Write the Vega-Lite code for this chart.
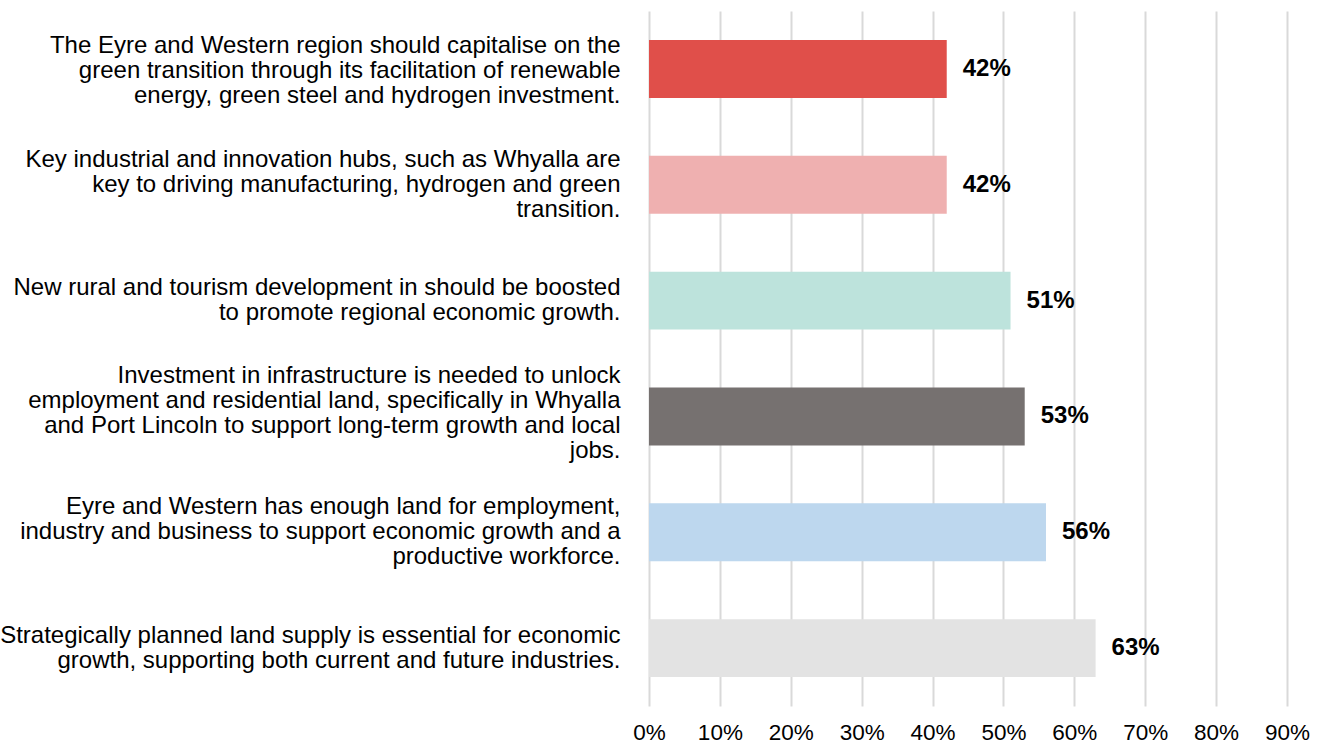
{
  "$schema": "https://vega.github.io/schema/vega-lite/v6.json",
  "autosize": "none",
  "width": 638,
  "height": 695,
  "padding": {"left": 649, "top": 11, "right": 39, "bottom": 38},
  "background": "white",
  "config": {"view": {"stroke": null}, "font": "Liberation Sans"},
  "data": {"values": [
    {"order": 1, "label": "The Eyre and Western region should capitalise on the|green transition through its facilitation of renewable|energy, green steel and hydrogen investment.", "value": 0.42, "color": "#E04F4A"},
    {"order": 2, "label": "Key industrial and innovation hubs, such as Whyalla are|key to driving manufacturing, hydrogen and green|transition.", "value": 0.42, "color": "#EFB0B0"},
    {"order": 3, "label": "New rural and tourism development in should be boosted|to promote regional economic growth.", "value": 0.51, "color": "#BDE3DC"},
    {"order": 4, "label": "Investment in infrastructure is needed to unlock|employment and residential land, specifically in Whyalla|and Port Lincoln to support long-term growth and local|jobs.", "value": 0.53, "color": "#767170"},
    {"order": 5, "label": "Eyre and Western has enough land for employment,|industry and business to support economic growth and a|productive workforce.", "value": 0.56, "color": "#BDD7EE"},
    {"order": 6, "label": "Strategically planned land supply is essential for economic|growth, supporting both current and future industries.", "value": 0.63, "color": "#E3E3E3"}
  ]},
  "encoding": {
    "y": {
      "field": "label", "type": "nominal", "sort": {"field": "order"},
      "scale": {"paddingInner": 0.5, "paddingOuter": 0.25},
      "axis": {
        "title": null, "domain": false, "ticks": false, "grid": false,
        "labelExpr": "split(datum.label, '|')",
        "labelFontSize": 24, "labelLineHeight": 25, "labelColor": "#000000",
        "labelPadding": 29, "labelLimit": 0, "labelAlign": "right", "labelBaseline": "middle",
        "labelOffset": {
          "condition": [
            {"test": "indexof(datum.value, 'The Eyre') == 0", "value": -23},
            {"test": "length(split(datum.value, '|')) == 2", "value": -12.5},
            {"test": "length(split(datum.value, '|')) == 3", "value": -25},
            {"test": "length(split(datum.value, '|')) == 4", "value": -40.5}
          ],
          "value": 0
        }
      }
    },
    "x": {
      "field": "value", "type": "quantitative",
      "scale": {"domain": [0, 0.9], "nice": false},
      "axis": {
        "title": null, "format": ".0%", "values": [0, 0.1, 0.2, 0.3, 0.4, 0.5, 0.6, 0.7, 0.8, 0.9],
        "domain": false, "ticks": false, "grid": true, "gridColor": "#D9D9D9", "gridWidth": 2,
        "labelFontSize": 22.5, "labelColor": "#000000", "labelPadding": 15, "labelFlush": false
      }
    }
  },
  "layer": [
    {"mark": {"type": "bar"}, "encoding": {"color": {"field": "color", "type": "nominal", "scale": null}}},
    {"mark": {"type": "text", "align": "left", "baseline": "middle", "dx": 16, "fontSize": 24, "fontWeight": "bold", "color": "#000000"},
     "encoding": {"text": {"field": "value", "type": "quantitative", "format": ".0%"}}}
  ]
}
